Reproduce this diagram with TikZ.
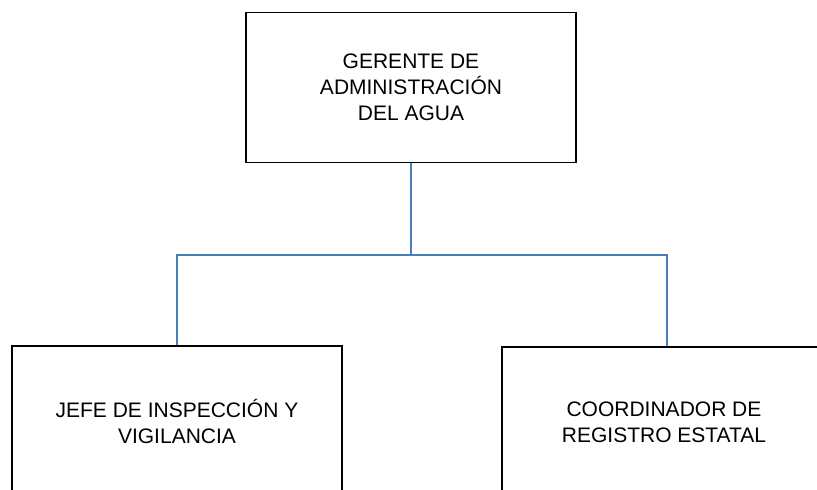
\documentclass[tikz,border=0pt]{standalone}
\usepackage{fontspec}
\setmainfont{Liberation Sans}
\usepackage{tikz}
\usetikzlibrary{calc}
\definecolor{linkblue}{HTML}{4A7EBB}

\begin{document}
\begin{tikzpicture}[x=1pt,y=-1pt,
		puesto/.style={draw=black,line width=1.4pt,minimum width=330pt,minimum height=150pt,
			align=center,font=\fontsize{21}{26}\selectfont},
		enlace/.style={draw=linkblue,line width=1.3pt}]
		\useasboundingbox(0,0) rectangle (817,490);
		\clip(0,0) rectangle (817,490);
		
		\node[puesto](gerente) at(411,87.5){GERENTE DE\\ADMINISTRACIÓN\\DEL AGUA};
		\node[puesto](jefe) at(177,421){JEFE DE INSPECCIÓN Y\\VIGILANCIA};
		\node[puesto,minimum width=324pt](coord) at(664,422){COORDINADOR DE\\REGISTRO ESTATAL};
		\coordinate(bus) at(411,255);
		
		\draw[enlace](gerente.south) -- (bus);
		\draw[enlace](bus) -| ($(coord.north)+(3,0)$);
		\draw[enlace](bus) -| (jefe.north);
	\end{tikzpicture}
\end{document}
